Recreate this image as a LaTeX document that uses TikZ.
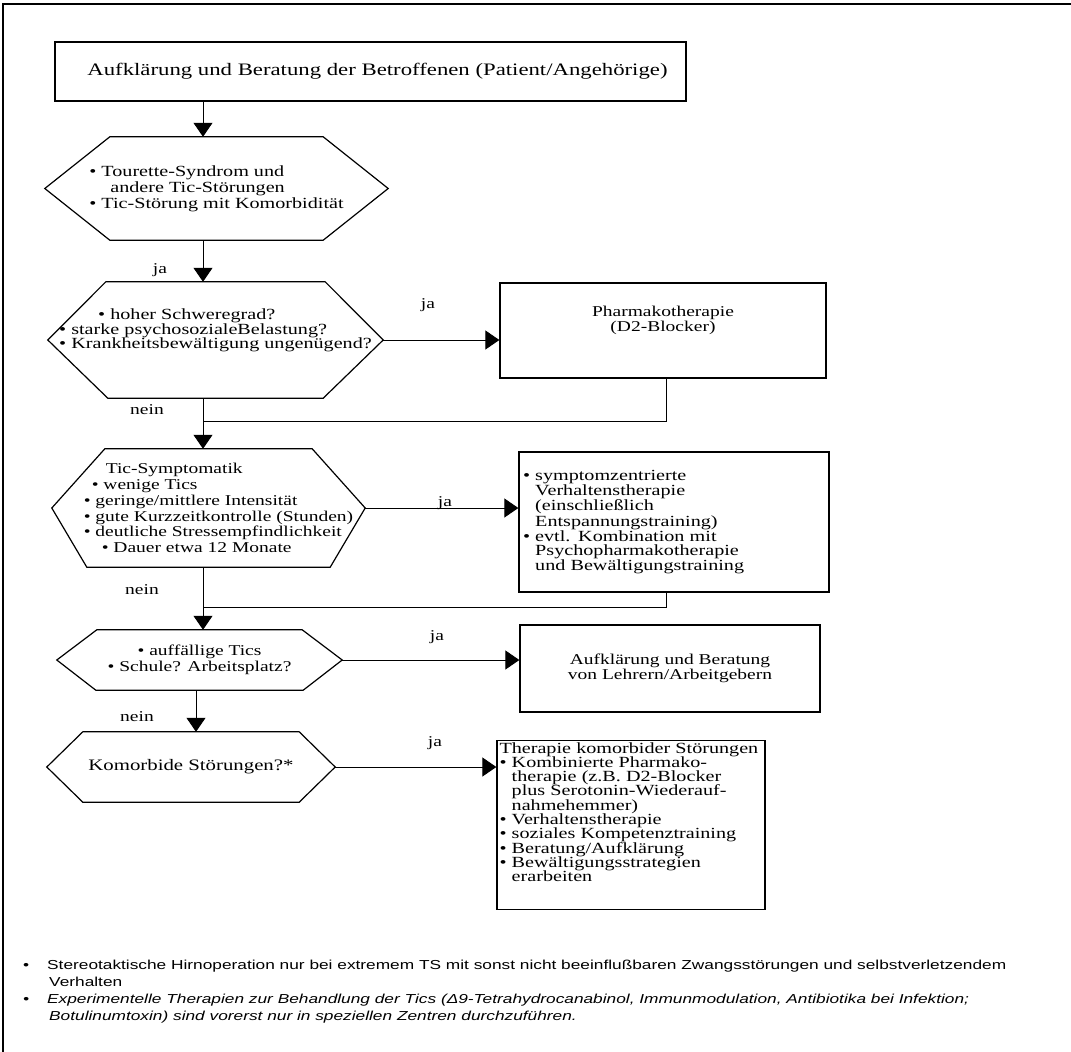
\documentclass[tikz,border=0pt]{standalone}
\usepackage{fontspec}
\setmainfont{Liberation Serif}[FakeStretch=1.3]
\newfontfamily\scansans{Liberation Sans}[FakeStretch=1.33]
\usepackage{tikz}
\usetikzlibrary{arrows.meta, positioning, calc}
\tikzstyle{process}=[rectangle, draw=black, line width=1.3pt, inner sep=2pt,
  font=\rmfamily\fontsize{15}{15.5}\selectfont]
\tikzstyle{decision}=[rectangle, inner sep=0pt, align=left,
  font=\rmfamily\fontsize{15.5}{16}\selectfont]
\tikzstyle{hexline}=[line width=1.2pt, line join=miter]
\tikzstyle{arrow}=[-{Triangle[length=14pt,width=19pt]}, line width=1pt]
\tikzstyle{link}=[line width=0.8pt]
\tikzstyle{answer}=[inner sep=0pt, font=\rmfamily\fontsize{15}{15}\selectfont]
\tikzstyle{note}=[inner sep=0pt, align=left, anchor=north west,
  font=\scansans\fontsize{13}{17}\selectfont]
\newcommand{\bulletgap}{\hphantom{• }}
% hexagon round a decision node: node name, top inset, bottom inset
\newcommand{\hexframe}[3]{%
  \draw[hexline] (#1.west) -- ([xshift=#2]#1.north west) -- ([xshift=-#2]#1.north east)
    -- (#1.east) -- ([xshift=-#3]#1.south east) -- ([xshift=#3]#1.south west) -- cycle;}

\begin{document}
\begin{tikzpicture}[x=1pt, y=-1pt]
  \useasboundingbox (0,0) rectangle (1071,1052);
  \draw[line width=1.5pt] (1071,4) -- (3,4) -- (3,1052);
  \coordinate (trunk) at (203,0);
  \coordinate (trunkb) at (196,0);

  \node[process, minimum width=631pt, minimum height=59pt,
    font=\rmfamily\fontsize{17.5}{20}\selectfont] (info) at (370.5,71.5)
    {\hspace*{14pt}Aufklärung und Beratung der Betroffenen (Patient/Angehörige)};

  \node[decision, minimum width=343pt, minimum height=103pt] (tics) at (216.5,188.5)
    {• Tourette-Syndrom und\\\hspace*{21pt}andere Tic-Störungen\\• Tic-Störung mit Komorbidität};
  \hexframe{tics}{65pt}{65pt}

  \node[decision, minimum width=335pt, minimum height=116pt,
    font=\rmfamily\fontsize{15.5}{14.5}\selectfont] (severity) at (215.5,340)
    {\hspace*{39pt}• hoher Schweregrad?\\• starke psychosozialeBelastung?\\• Krankheitsbewältigung ungenügend?\rule[-22pt]{0pt}{22pt}};
  \hexframe{severity}{58pt}{60pt}

  \node[process, minimum width=326pt, minimum height=95pt, align=center] (pharma) at (663,330.5)
    {Pharmakotherapie\\(D2-Blocker)\rule[-23pt]{0pt}{23pt}};

  \node[decision, minimum width=313pt, minimum height=118pt,
    font=\rmfamily\fontsize{15}{15.8}\selectfont] (symptoms) at (208.5,508)
    {\hspace*{42pt}Tic-Symptomatik\\\hspace*{28pt}• wenige Tics\\\hspace*{20pt}• geringe/mittlere Intensität\\
     \hspace*{20pt}• gute Kurzzeitkontrolle (Stunden)\\\hspace*{20pt}• deutliche Stressempfindlichkeit\\
     \hspace*{38pt}• Dauer etwa 12 Monate};
  \hexframe{symptoms}{53pt}{35pt}

  \node[process, text width=302pt, inner xsep=4pt, minimum height=140pt, align=left,
    font=\rmfamily\fontsize{15.5}{14}\selectfont] (behaviour) at (674,522)
    {• symptomzentrierte\\\bulletgap Verhaltenstherapie\\\bulletgap (einschließlich\\\bulletgap Entspannungstraining)\\
     • evtl. Kombination mit\\\bulletgap Psychopharmakotherapie\\\bulletgap und Bewältigungstraining};

  \node[decision, minimum width=285pt, minimum height=60pt, align=center,
    font=\rmfamily\fontsize{15}{16}\selectfont] (school) at (199.5,660)
    {• auffällige Tics\\• Schule? Arbeitsplatz?};
  \hexframe{school}{40pt}{39pt}

  \node[process, minimum width=300pt, minimum height=87pt, align=center] (teachers) at (670,668.5)
    {Aufklärung und Beratung\\von Lehrern/Arbeitgebern};

  \node[decision, minimum width=288pt, minimum height=70pt, align=center,
    font=\rmfamily\fontsize{16}{16}\selectfont] (comorbid) at (191,767)
    {Komorbide Störungen?*};
  \hexframe{comorbid}{36pt}{36pt}

  \node[process, text width=263pt, inner xsep=2.5pt, minimum height=166pt, align=left,
    font=\rmfamily\fontsize{15.5}{14.3}\selectfont] (therapy) at (631,825)
    {Therapie komorbider Störungen\\• Kombinierte Pharmako-\\\bulletgap therapie (z.B. D2-Blocker\\
     \bulletgap plus Serotonin-Wiederauf-\\\bulletgap nahmehemmer)\\• Verhaltenstherapie\\
     • soziales Kompetenztraining\\• Beratung/Aufklärung\\• Bewältigungsstrategien\\
     \bulletgap erarbeiten\rule[-26pt]{0pt}{26pt}};

  \draw[arrow] (info.south -| trunk) -- (tics.north -| trunk);
  \draw[arrow] (tics.south -| trunk) -- (severity.north -| trunk);
  \draw[arrow] (severity.east) -- (severity.east -| pharma.west);
  \draw[arrow] (severity.south -| trunk) -- (symptoms.north -| trunk);
  \coordinate (back1) at (666,421);
  \draw[link] (pharma.south -| back1) -- (back1) -- (back1 -| trunk);
  \draw[arrow] (symptoms.east) -- (symptoms.east -| behaviour.west);
  \draw[arrow] (symptoms.south -| trunk) -- (school.north -| trunk);
  \coordinate (back2) at (666,607);
  \draw[link] (behaviour.south -| back2) -- (back2) -- (back2 -| trunk);
  \draw[arrow] (school.east) -- (school.east -| teachers.west);
  \draw[arrow] (school.south -| trunkb) -- (comorbid.north -| trunkb);
  \draw[arrow] (comorbid.east) -- (comorbid.east -| therapy.west);

  \node[answer] (yes1) at (160,270) {ja};
  \node[answer] (yes2) at (428,305) {ja};
  \node[answer] (no1) at (147,410) {nein};
  \node[answer] (yes3) at (445,503) {ja};
  \node[answer] (no2) at (142,590) {nein};
  \node[answer] (yes4) at (437,637) {ja};
  \node[answer] (no3) at (137,717) {nein};
  \node[answer] (yes5) at (435,743) {ja};

  \node[note] (note1) at (23,960)
    {\makebox[24pt][l]{•}Stereotaktische Hirnoperation nur bei extremem TS mit sonst nicht beeinflußbaren Zwangsstörungen und selbstverletzendem\\
     \hspace*{26pt}Verhalten};
  \node[note, font=\scansans\itshape\fontsize{13}{17}\selectfont] (note2) at (23,994)
    {\makebox[24pt][l]{•}Experimentelle Therapien zur Behandlung der Tics (Δ9-Tetrahydrocanabinol, Immunmodulation, Antibiotika bei Infektion;\\
     \hspace*{26pt}Botulinumtoxin) sind vorerst nur in speziellen Zentren durchzuführen.};
\end{tikzpicture}
\end{document}
